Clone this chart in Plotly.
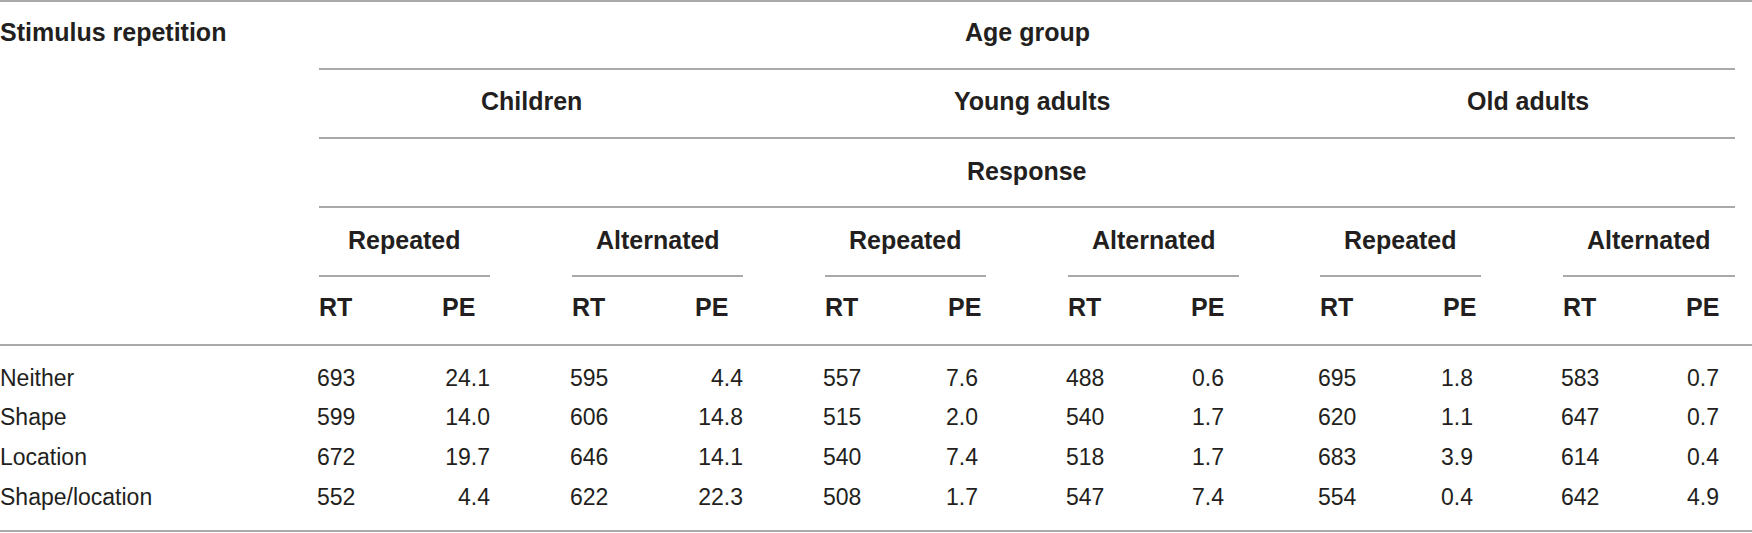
import plotly.graph_objects as go

# ==============================================================================
# -- Data ----------------------------------------------------------------------
# ==============================================================================
rows = ['Neither', 'Shape', 'Location', 'Shape/location']
age_groups = ['Children', 'Young adults', 'Old adults']
responses = ['Repeated', 'Alternated']

children_rep_rt = [693, 599, 672, 552]
children_rep_pe = [24.1, 14.0, 19.7, 4.4]
children_alt_rt = [595, 606, 646, 622]
children_alt_pe = [4.4, 14.8, 14.1, 22.3]
young_rep_rt = [557, 515, 540, 508]
young_rep_pe = [7.6, 2.0, 7.4, 1.7]
young_alt_rt = [488, 540, 518, 547]
young_alt_pe = [0.6, 1.7, 1.7, 7.4]
old_rep_rt = [695, 620, 683, 554]
old_rep_pe = [1.8, 1.1, 3.9, 0.4]
old_alt_rt = [583, 647, 614, 642]
old_alt_pe = [0.7, 0.7, 0.4, 4.9]

rt_cols = [children_rep_rt, children_alt_rt, young_rep_rt, young_alt_rt, old_rep_rt, old_alt_rt]
pe_cols = [children_rep_pe, children_alt_pe, young_rep_pe, young_alt_pe, old_rep_pe, old_alt_pe]

# ==============================================================================
# -- Layout constants (pixels) -------------------------------------------------
# ==============================================================================
W, H = 1752, 533
group_start = [319, 572, 825, 1068, 1320, 1563]
group_end = [490, 743, 986, 1239, 1481, 1735]
pe_head_x = [s + 123 for s in group_start]
pe_right = [490, 743, 978, 1224, 1473, 1719]
row_y0 = 380
row_step = 39.7
row_y = [row_y0 + i * row_step for i in range(len(rows))]

line_col = '#a9a9a9'
txt_col = '#231f20'
head_font = dict(family='Liberation Sans', size=25, color=txt_col)
body_font = dict(family='Liberation Sans', size=23, color=txt_col)

fig = go.Figure()

# row labels
fig.add_trace(go.Scatter(
    x=[0] * len(rows), y=row_y, text=rows, mode='text',
    textposition='middle right', textfont=body_font, hoverinfo='skip',
    cliponaxis=False
))

# values
for g in range(6):
    fig.add_trace(go.Scatter(
        x=[group_start[g] - 2] * len(rows), y=row_y,
        text=[str(v) for v in rt_cols[g]], mode='text',
        textposition='middle right', textfont=body_font, hoverinfo='skip'
    ))
    fig.add_trace(go.Scatter(
        x=[pe_right[g]] * len(rows), y=row_y,
        text=['%.1f' % v for v in pe_cols[g]], mode='text',
        textposition='middle left', textfont=body_font, hoverinfo='skip'
    ))

# ==============================================================================
# -- Header text ---------------------------------------------------------------
# ==============================================================================
ann = []
def head(text, x, y, anchor='center', xshift=0):
    ann.append(dict(text='<b>%s</b>' % text, x=x, y=y, xref='x', yref='y',
                    xanchor=anchor, yanchor='middle', showarrow=False,
                    xshift=xshift, font=head_font))

head('Stimulus repetition', 0, 32, 'left', -2)
head('Age group', (group_start[0] + group_end[-1]) / 2, 32)
for i, name in enumerate(age_groups):
    head(name, (group_start[2 * i] + group_end[2 * i + 1]) / 2, 101)
head('Response', (group_start[0] + group_end[-1]) / 2, 171)
for g in range(6):
    head(responses[g % 2], (group_start[g] + group_end[g]) / 2, 240)
    head('RT', group_start[g] - 2, 307, 'left')
    head('PE', pe_head_x[g] - 2, 307, 'left')

# ==============================================================================
# -- Rules ---------------------------------------------------------------------
# ==============================================================================
shapes = []
def rule(x0, x1, y):
    shapes.append(dict(type='line', x0=x0, x1=x1, y0=y, y1=y, xref='x', yref='y',
                       line=dict(color=line_col, width=2)))

rule(0, W, 1)
for y in [69, 138, 207]:
    rule(group_start[0], group_end[-1], y)
for g in range(6):
    rule(group_start[g], group_end[g], 276)
rule(0, W, 345)
rule(0, W, 531)

fig.update_layout(
    width=W, height=H,
    margin=dict(l=0, r=0, t=0, b=0),
    paper_bgcolor='white', plot_bgcolor='white',
    showlegend=False,
    annotations=ann, shapes=shapes,
    xaxis=dict(range=[0, W], visible=False, fixedrange=True),
    yaxis=dict(range=[H, 0], visible=False, fixedrange=True),
)

# page body has an 8px default margin, drop it so the table sits at 0,0
fig.write_html("out.html", config={'displayModeBar': False},
               post_script="document.body.style.margin='0';document.body.style.overflow='hidden';")
